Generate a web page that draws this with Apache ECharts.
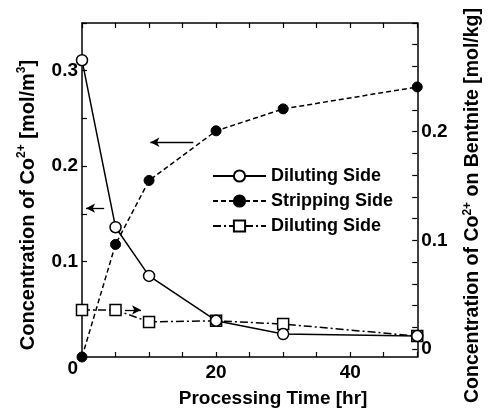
<!DOCTYPE html>
<html>
<head>
<meta charset="utf-8">
<script src="https://cdn.jsdelivr.net/npm/echarts@6/dist/echarts.min.js"></script>
<style>html,body{margin:0;padding:0;background:#fff}#c{width:491px;height:413px}</style>
</head>
<body>
<div id="c"></div>
<script>
// Data
const hours = [0, 5, 10, 20, 30, 50];
const dilutingLiquid = [0.311, 0.136, 0.085, 0.038, 0.024, 0.022];   // left axis, mol/m3
const strippingLiquid = [0.0, 0.118, 0.185, 0.237, 0.26, 0.283];     // left axis, mol/m3
const dilutingBentonite = [0.036, 0.036, 0.025, 0.026, 0.023, 0.012]; // right axis, mol/kg
const seriesNames = ['Diluting Side', 'Stripping Side', 'Diluting Side '];
const xTickLabels = [20, 40];
const xTicks = [0, 5, 10, 15, 20, 25, 30, 35, 40, 45, 50];
const leftTickLabels = [0, 0.1, 0.2, 0.3];
const leftTicks = [0, 0.05, 0.1, 0.15, 0.2, 0.25, 0.3, 0.35];
const rightTickLabels = [0, 0.1, 0.2];
const rightTicks = [0, 0.02, 0.04, 0.06, 0.08, 0.1, 0.12, 0.14, 0.16, 0.18, 0.2, 0.22, 0.24, 0.26, 0.28, 0.3];
// annotation arrows [x0, y0, x1, y1, axisIndex]
const arrows = [
  [3.3, 0.156, 0.6, 0.156, 0],
  [16.6, 0.225, 10.2, 0.225, 0],
  [6.4, 0.036, 8.8, 0.036, 1]
];

const FONT = '"Liberation Sans", Arial, sans-serif';
const pairs = arr => hours.map((h, i) => [h, arr[i]]);
const axisLineStyle = { color: '#000', width: 1.5 };
const lblStyle = { color: '#000', fontFamily: FONT, fontWeight: 'bold', fontSize: 19 };
function richFor(size) {
  return {
    n: { fontFamily: FONT, fontWeight: 'bold', fontSize: size, color: '#000', lineHeight: size + 4 },
    s: { fontFamily: FONT, fontWeight: 'bold', fontSize: Math.round(size * 0.6), color: '#000', lineHeight: size + 4, verticalAlign: 'top' }
  };
}
function arrowLine(a) {
  return [{ coord: [a[0], a[1]], symbol: 'none' }, { coord: [a[2], a[3]], symbol: 'arrow' }];
}
const arrowsFor = idx => ({
  silent: true,
  symbolSize: [7, 9],
  label: { show: false },
  lineStyle: { color: '#000', width: 1.3, type: 'solid' },
  data: arrows.filter(a => a[4] === idx).map(arrowLine)
});

const chart = echarts.init(document.getElementById('c'));
chart.setOption({
  animation: false,
  backgroundColor: '#fff',
  grid: { left: 82, right: 73, top: 23, bottom: 54 },
  legend: {
    orient: 'vertical',
    left: 207, top: 162,
    itemWidth: 53, itemHeight: 14, itemGap: 7,
    textStyle: { color: '#000', fontFamily: FONT, fontWeight: 'bold', fontSize: 18 },
    data: seriesNames
  },
  xAxis: [{
    type: 'value', min: 0, max: 50,
    name: 'Processing Time [hr]', nameLocation: 'middle', nameGap: 32,
    nameTextStyle: { color: '#000', fontFamily: FONT, fontWeight: 'bold', fontSize: 19, padding: [0, 0, 0, 47] },
    axisLine: { onZero: false, lineStyle: axisLineStyle },
    axisTick: { inside: true, length: 5, customValues: xTicks, lineStyle: { color: '#000', width: 1.2 } },
    axisLabel: Object.assign({ customValues: xTickLabels, margin: 6 }, lblStyle),
    splitLine: { show: false }
  }, {
    type: 'value', min: 0, max: 50, position: 'top',
    axisLine: { onZero: false, lineStyle: axisLineStyle },
    axisTick: { inside: true, length: 5, customValues: xTicks, lineStyle: { color: '#000', width: 1.2 } },
    axisLabel: { show: false },
    splitLine: { show: false }
  }],
  yAxis: [{
    type: 'value', min: 0, max: 0.35, position: 'left',
    name: '{n|Concentration of Co}{s|2+}{n| [mol/m}{s|3}{n|]}',
    nameLocation: 'middle', nameGap: 42, nameRotate: 90,
    nameTextStyle: { rich: richFor(20), padding: [0, 30, 0, 0] },
    axisLine: { onZero: false, lineStyle: axisLineStyle },
    axisTick: { inside: true, length: 5, customValues: leftTicks, lineStyle: { color: '#000', width: 1.2 } },
    axisLabel: Object.assign({
      customValues: leftTickLabels, margin: 4,
      formatter: v => v === 0 ? '{z|0}' : String(v),
      rich: { z: { fontFamily: FONT, fontWeight: 'bold', fontSize: 19, color: '#000', padding: [24, 0, 0, 0] } }
    }, lblStyle),
    splitLine: { show: false }
  }, {
    type: 'value', min: -0.0073, max: 0.3, position: 'right',
    name: '{n|Concentration of Co}{s|2+}{n| on Bentnite [mol/kg]}',
    nameLocation: 'middle', nameGap: 44, nameRotate: 90,
    nameTextStyle: { rich: richFor(19.5), padding: [0, 31, 0, 0] },
    axisLine: { onZero: false, lineStyle: axisLineStyle },
    axisTick: { inside: true, length: 5, customValues: rightTicks, lineStyle: { color: '#000', width: 1.2 } },
    axisLabel: Object.assign({ customValues: rightTickLabels, margin: 4 }, lblStyle),
    splitLine: { show: false }
  }],
  series: [{
    name: seriesNames[0], type: 'line', xAxisIndex: 0, yAxisIndex: 0,
    data: pairs(dilutingLiquid),
    symbol: 'circle', symbolSize: 11,
    lineStyle: { color: '#000', width: 1.5, type: 'solid' },
    itemStyle: { color: '#fff', borderColor: '#000', borderWidth: 1.5 },
    markLine: arrowsFor(0),
    z: 3
  }, {
    name: seriesNames[1], type: 'line', xAxisIndex: 0, yAxisIndex: 0,
    data: pairs(strippingLiquid),
    symbol: 'circle', symbolSize: 10,
    lineStyle: { color: '#000', width: 1.5, type: [5, 3] },
    itemStyle: { color: '#000', borderColor: '#000', borderWidth: 1 },
    z: 4
  }, {
    name: seriesNames[2], type: 'line', xAxisIndex: 0, yAxisIndex: 1,
    data: pairs(dilutingBentonite),
    symbol: 'rect', symbolSize: 11,
    lineStyle: { color: '#000', width: 1.5, type: [8, 3, 2, 3] },
    itemStyle: { color: '#fff', borderColor: '#000', borderWidth: 1.5 },
    markLine: arrowsFor(1),
    z: 2
  }]
});
</script>
</body>
</html>
